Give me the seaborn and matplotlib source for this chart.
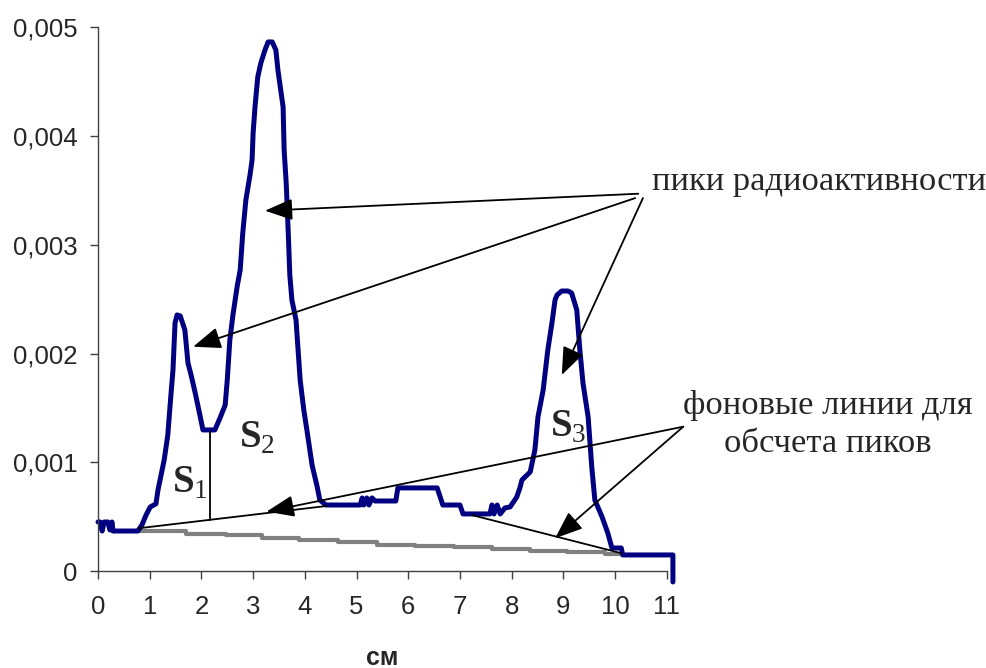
import numpy as np
import matplotlib
matplotlib.use("Agg")
import matplotlib.pyplot as plt
from matplotlib.ticker import FuncFormatter
import seaborn as sns

# radioactivity scan (x in cm, y in units of 0.001)
scan_x = [0.00, 0.04, 0.08, 0.12, 0.19, 0.23, 0.27, 0.29, 0.77, 0.85,
          0.93, 1.01, 1.12, 1.16, 1.22, 1.28, 1.35, 1.41, 1.45, 1.49,
          1.53, 1.59, 1.68, 1.74, 1.80, 1.88, 1.97, 2.03, 2.26, 2.36,
          2.46, 2.50, 2.55, 2.61, 2.69, 2.75, 2.80, 2.86, 2.94, 2.98,
          3.00, 3.04, 3.09, 3.15, 3.23, 3.29, 3.37, 3.44, 3.48, 3.52,
          3.58, 3.60, 3.64, 3.68, 3.71, 3.75, 3.83, 3.91, 3.98, 4.04,
          4.14, 4.24, 4.29, 4.41, 5.07, 5.11, 5.14, 5.20, 5.24, 5.30,
          5.36, 5.76, 5.80, 6.56, 6.67, 7.00, 7.06, 7.58, 7.62, 7.66,
          7.72, 7.78, 7.87, 7.97, 8.10, 8.16, 8.20, 8.36, 8.45, 8.51,
          8.61, 8.70, 8.78, 8.84, 8.88, 8.97, 9.09, 9.16, 9.26, 9.32,
          9.38, 9.48, 9.55, 9.61, 9.75, 9.86, 9.94, 10.12, 10.15, 11.12,
          11.12]
scan_y = [0.453, 0.453, 0.370, 0.453, 0.453, 0.380, 0.453, 0.370, 0.370, 0.426,
          0.517, 0.591, 0.619, 0.747, 0.885, 1.023, 1.253, 1.620, 1.850, 2.282,
          2.356, 2.347, 2.218, 1.915, 1.804, 1.639, 1.437, 1.299, 1.299, 1.409,
          1.528, 1.758, 2.126, 2.356, 2.613, 2.769, 3.109, 3.413, 3.642, 3.780,
          4.028, 4.286, 4.543, 4.672, 4.791, 4.865, 4.865, 4.791, 4.608, 4.470,
          4.268, 3.872, 3.569, 3.109, 2.723, 2.494, 2.310, 1.758, 1.483, 1.299,
          0.977, 0.775, 0.655, 0.609, 0.609, 0.674, 0.609, 0.674, 0.609, 0.674,
          0.646, 0.646, 0.766, 0.766, 0.609, 0.609, 0.527, 0.527, 0.609, 0.527,
          0.609, 0.527, 0.582, 0.591, 0.683, 0.766, 0.839, 0.913, 1.115, 1.418,
          1.666, 2.034, 2.282, 2.494, 2.540, 2.576, 2.576, 2.558, 2.402, 2.034,
          1.731, 1.418, 0.959, 0.655, 0.499, 0.352, 0.214, 0.214, 0.150, 0.150,
          -0.098]

# stepped background (grey)
bg_x = [0.81, 1.70, 2.48, 3.17, 3.89, 4.64, 5.40, 6.13, 6.89, 7.62, 8.36, 9.07, 9.81, 10.15]
bg_y = [0.370, 0.347, 0.329, 0.306, 0.283, 0.265, 0.246, 0.233, 0.219, 0.205, 0.187, 0.173, 0.159, 0.159]

# background lines for peak integration
base1_x = [0.78, 4.42]
base1_y = [0.395, 0.600]
base2_x = [7.23, 10.13]
base2_y = [0.517, 0.165]
split_x = [2.17, 2.17]
split_y = [1.283, 0.473]

xticks = list(range(0, 12))
yticks = [0, 0.001, 0.002, 0.003, 0.004, 0.005]

sns.set_style("white")
plt.rcParams['font.family'] = ['Liberation Sans', 'DejaVu Sans']
plt.rcParams['mathtext.fontset'] = 'custom'
plt.rcParams['mathtext.rm'] = 'Liberation Serif'
plt.rcParams['mathtext.bf'] = 'Liberation Serif:bold'

fig = plt.figure(figsize=(9.87, 6.68), dpi=100)
ax = fig.add_axes([0.0993, 0.1448, 0.5762, 0.8144])

sc = 1e-3
sns.lineplot(x=bg_x, y=np.array(bg_y) * sc, ax=ax, color="#808080", lw=3,
             drawstyle="steps-post", estimator=None, sort=False)
sns.lineplot(x=scan_x, y=np.array(scan_y) * sc, ax=ax, color="#000080", lw=3.6,
             estimator=None, sort=False, clip_on=False)
for bx, by in [(base1_x, base1_y), (base2_x, base2_y), (split_x, split_y)]:
    ax.plot(bx, np.array(by) * sc, color="black", lw=1.3)

ax.set_xlim(0, 11)
ax.set_ylim(0, 0.005)
ax.set_xticks(xticks)
ax.set_yticks(yticks)
ax.yaxis.set_major_formatter(FuncFormatter(lambda v, p: "0" if v == 0 else f"{v:.3f}".replace(".", ",")))
ax.tick_params(axis="both", direction="out", length=6, width=1, color="#404040",
               labelsize=18.5, bottom=True, left=True)
ax.tick_params(axis="x", pad=11)
ax.tick_params(axis="y", pad=9)
for s in ["top", "right"]:
    ax.spines[s].set_visible(False)
for s in ["left", "bottom"]:
    ax.spines[s].set_color("#404040")
    ax.spines[s].set_linewidth(1)

ax.set_xlabel("см", fontsize=18, fontweight="bold")
ax.xaxis.set_label_coords(0.5, -0.137)
ax.set_ylabel("")

arrow = dict(arrowstyle="-|>,head_length=0.9,head_width=0.35", color="black",
             lw=1.3, shrinkA=0, shrinkB=0, mutation_scale=19)
peak_tips = [((10.45, 3.47), (3.23, 3.314)),
             ((10.39, 3.43), (1.84, 2.064)),
             ((10.54, 3.43), (8.97, 1.804))]
for (tx, ty), (hx, hy) in peak_tips:
    ax.annotate("", xy=(hx, hy * sc), xytext=(tx, ty * sc), arrowprops=arrow,
                annotation_clip=False)
base_tips = [((11.32, 1.329), (3.26, 0.548)),
             ((11.32, 1.329), (8.84, 0.303))]
for (tx, ty), (hx, hy) in base_tips:
    ax.annotate("", xy=(hx, hy * sc), xytext=(tx, ty * sc), arrowprops=arrow,
                annotation_clip=False)

serif = ['Liberation Serif', 'DejaVu Serif']
ax.text(10.72, 3.50 * sc, "пики радиоактивности", family=serif, fontsize=24.8,
        va="baseline", ha="left")
ax.text(14.11, 1.665 * sc, "фоновые линии для\nобсчета пиков", family=serif, fontsize=24.8,
        va="top", ha="center", multialignment="center", linespacing=1.3)

for lbl, lx, ly in [("1", 1.43, 0.72), ("2", 2.73, 1.133), ("3", 8.74, 1.234)]:
    ax.text(lx, ly * sc, r"$\mathbf{S}_{" + lbl + "}$", fontsize=28, va="baseline", ha="left")

fig.savefig("out.png", dpi=100)
